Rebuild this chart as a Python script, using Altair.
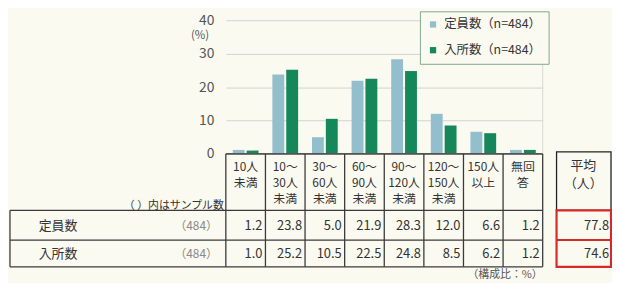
import altair as alt
import pandas as pd

# ---- data ----
categories = ["10人\n未満", "10〜\n30人\n未満", "30〜\n60人\n未満", "60〜\n90人\n未満",
              "90〜\n120人\n未満", "120〜\n150人\n未満", "150人\n以上", "無回\n答"]
series = ["定員数（n=484）", "入所数（n=484）"]
teiin = [1.2, 23.8, 5.0, 21.9, 28.3, 12.0, 6.6, 1.2]
nyusho = [1.0, 25.2, 10.5, 22.5, 24.8, 8.5, 6.2, 1.2]
row_labels = ["定員数", "入所数"]
sample_n = ["（484）", "（484）"]
averages = [77.8, 74.6]
y_ticks = [0, 10, 20, 30, 40]

FONT = "Noto Sans CJK JP"
BG = "#fbfaf1"
LIGHT = "#93bfcc"
DARK = "#15875a"
INK = "#333333"
LINE = "#3a3a3a"

bars_df = pd.DataFrame(
    [{"cat": c, "series": series[0], "value": v} for c, v in zip(categories, teiin)]
    + [{"cat": c, "series": series[1], "value": v} for c, v in zip(categories, nyusho)]
)
cat_df = pd.DataFrame({"cat": categories})
row1_df = pd.DataFrame({"cat": categories, "value": teiin})
row2_df = pd.DataFrame({"cat": categories, "value": nyusho})
one = pd.DataFrame({"k": [0]})

xscale = alt.Scale(domain=categories, paddingInner=0, paddingOuter=0)
X = lambda **kw: alt.X("cat:N", sort=categories, scale=xscale, axis=None, **kw)

bars = alt.Chart(bars_df).mark_bar().encode(
    x=X(),
    xOffset=alt.XOffset("series:N", sort=series,
                        scale=alt.Scale(domain=series, paddingInner=0.143, paddingOuter=0.5)),
    y=alt.Y("value:Q", scale=alt.Scale(domain=[0, 40], nice=False),
            axis=alt.Axis(values=y_ticks, grid=True, gridColor="#d2d2cc", gridWidth=1,
                          domain=False, ticks=False, labelPadding=12, labelFontSize=14,
                          labelColor="#555555", labelFont=FONT, title=None)),
    color=alt.Color("series:N", sort=series,
                    scale=alt.Scale(domain=series, range=[LIGHT, DARK]),
                    legend=alt.Legend(orient="none", legendX=196, legendY=-9, title=None,
                                      symbolType="square", symbolSize=40, symbolStrokeWidth=0,
                                      labelFontSize=12.5, labelFont=FONT, labelColor=INK,
                                      labelOffset=5, rowPadding=13, padding=7,
                                      fillColor=BG, strokeColor="#7fa890")),
)

def vrule(x, y, y2, color=LINE, w=1.3):
    return alt.Chart(one).mark_rule(color=color, strokeWidth=w).encode(
        x=alt.value(x), y=alt.value(y), y2=alt.value(y2))

def hrule(x, x2, y, color=LINE, w=1.3):
    return alt.Chart(one).mark_rule(color=color, strokeWidth=w).encode(
        x=alt.value(x), x2=alt.value(x2), y=alt.value(y))

def label(text, x, y, align="left", size=13, color=INK, baseline="middle", lh=16):
    return alt.Chart(one).mark_text(text=text, align=align, baseline=baseline, fontSize=size,
                                    font=FONT, color=color, lineBreak="\n", lineHeight=lh).encode(
        x=alt.value(x), y=alt.value(y))

right_light = vrule("width", 0, 135, color="#d8d8d2", w=1)
baseline = hrule(0, "width", 135, color="#555555", w=1.6)

col_lines = alt.Chart(cat_df).mark_rule(color=LINE, strokeWidth=1.3).encode(
    x=X(bandPosition=0), y=alt.value(135), y2=alt.value(249))
col_right = vrule("width", 135, 249)
left_border = vrule(-218, 192, 249)
top_line = hrule(-218, "width", 192)
mid_line = hrule(-218, "width", 222)
bot_line = hrule(-218, "width", 249)

header = alt.Chart(cat_df).mark_text(align="center", baseline="top", fontSize=12, font=FONT,
                                     color=INK, lineBreak="\n", lineHeight=16.5).encode(
    x=X(), y=alt.value(143), text="cat:N")

def value_row(df, y):
    return alt.Chart(df).mark_text(align="right", baseline="middle", fontSize=13, font=FONT,
                                   color=INK, dx=-3).encode(
        x=X(bandPosition=1), y=alt.value(y), text=alt.Text("value:Q", format=".1f"))

row1 = value_row(row1_df, 208)
row2 = value_row(row2_df, 236)

texts = [
    label(row_labels[0], -189, 208),
    label(row_labels[1], -189, 236),
    label(sample_n[0], -8, 208, align="right", size=12, color="#8a8a8a"),
    label(sample_n[1], -8, 236, align="right", size=12, color="#8a8a8a"),
    label("（ ）内はサンプル数", -2, 188, align="right", size=11),
    label("（構成比：%）", 320, 257, align="right", size=11, color="#555555"),
    label("(%)", -26, 16, align="center", size=11.5, color="#555555"),
    label("平均\n（人）", 361, 141, align="center", baseline="top", lh=18),
    label(f"{averages[0]:.1f}", 387, 208, align="right"),
    label(f"{averages[1]:.1f}", 387, 236, align="right"),
]

avg_box = alt.Chart(one).mark_rect(fillOpacity=0, stroke="#222222", strokeWidth=1.3).encode(
    x=alt.value(334), x2=alt.value(389), y=alt.value(133), y2=alt.value(192))
red_box = alt.Chart(one).mark_rect(fillOpacity=0, stroke="#d42a2a", strokeWidth=2.2).encode(
    x=alt.value(334), x2=alt.value(389), y=alt.value(192), y2=alt.value(249))
red_mid = hrule(334, 389, 222, color="#d42a2a", w=2)

chart = alt.layer(
    right_light, bars, baseline, col_lines, col_right, left_border, top_line, mid_line,
    bot_line, header, row1, row2, *texts, avg_box, red_box, red_mid,
).properties(
    width=320, height=135,
    autosize=alt.AutoSizeParams(type="none"),
    padding={"left": 220, "top": 11, "right": 70, "bottom": 129},
    background=BG,
).configure_view(stroke=None)

chart.save("out.html", embed_options={"renderer": "svg", "actions": False})
